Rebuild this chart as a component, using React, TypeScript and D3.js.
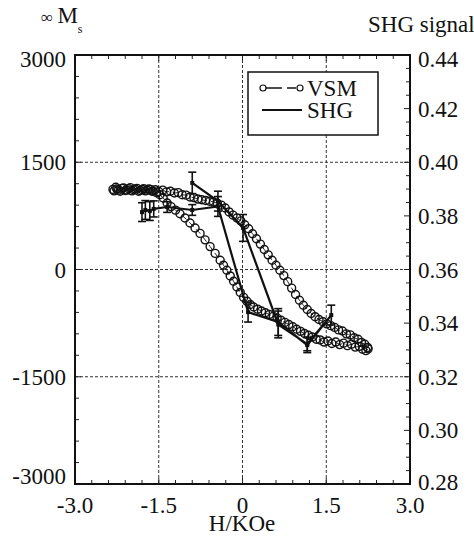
import * as d3 from "d3";
import { useEffect, useRef } from "react";

const W = 474;
const H = 536;

const hTicks = [-3, -1.5, 0, 1.5, 3];
const hTickLabels = ["-3.0", "-1.5", "0", "1.5", "3.0"];
const msTicks = [3000, 1500, 0, -1500, -3000];
const msTickLabels = ["3000", "1500", "0", "-1500", "-3000"];
const shgTicks = [0.44, 0.42, 0.4, 0.38, 0.36, 0.34, 0.32, 0.3, 0.28];
const shgTickLabels = ["0.44", "0.42", "0.40", "0.38", "0.36", "0.34", "0.32", "0.30", "0.28"];

// VSM loop, upper branch (switches at positive field), [H in kOe, Ms]
const vsmUpper: [number, number][] = [
  [-2.32, 1120], [-2.27, 1150], [-2.22, 1110], [-2.16, 1135], [-2.1, 1105],
  [-2.04, 1130], [-1.98, 1100], [-1.92, 1125], [-1.86, 1095], [-1.8, 1120],
  [-1.74, 1100], [-1.68, 1125], [-1.62, 1095], [-1.56, 1115], [-1.5, 1090],
  [-1.43, 1110], [-1.36, 1085], [-1.29, 1095], [-1.22, 1070], [-1.15, 1075],
  [-1.08, 1045], [-1.01, 1040], [-0.94, 1015], [-0.87, 1005], [-0.8, 985],
  [-0.73, 975], [-0.66, 965], [-0.59, 955], [-0.52, 945], [-0.45, 925],
  [-0.38, 900], [-0.31, 860], [-0.24, 805], [-0.17, 760], [-0.1, 720],
  [-0.03, 680], [0.04, 625], [0.11, 570], [0.18, 500], [0.25, 430],
  [0.32, 355], [0.39, 280], [0.46, 205], [0.53, 130], [0.6, 60],
  [0.67, -10], [0.74, -85], [0.81, -170], [0.88, -260], [0.95, -350],
  [1.02, -430], [1.09, -500], [1.16, -560], [1.23, -615], [1.3, -660],
  [1.37, -700], [1.44, -730], [1.51, -760], [1.58, -785], [1.65, -810],
  [1.72, -845], [1.79, -860], [1.86, -900], [1.93, -915], [2.0, -955],
  [2.07, -975], [2.13, -1020], [2.19, -1045], [2.24, -1090],
];

// VSM loop, lower branch (switches at negative field)
const vsmLower: [number, number][] = [
  [-2.3, 1100], [-2.25, 1125], [-2.19, 1095], [-2.13, 1140], [-2.07, 1110],
  [-2.01, 1145], [-1.95, 1115], [-1.89, 1135], [-1.83, 1105], [-1.77, 1130],
  [-1.71, 1110], [-1.65, 1120], [-1.6, 1095], [-1.54, 1075], [-1.48, 1045],
  [-1.42, 1000], [-1.35, 930], [-1.28, 880], [-1.2, 830], [-1.12, 780],
  [-1.03, 720], [-0.94, 650], [-0.85, 580], [-0.76, 505], [-0.67, 415],
  [-0.58, 320], [-0.49, 225], [-0.4, 130], [-0.34, 60], [-0.28, -10],
  [-0.22, -90], [-0.16, -165], [-0.1, -245], [-0.04, -320], [0.02, -390],
  [0.08, -445], [0.14, -490], [0.2, -525], [0.27, -555], [0.34, -580],
  [0.41, -605], [0.48, -630], [0.55, -655], [0.62, -680], [0.69, -710],
  [0.76, -740], [0.83, -770], [0.9, -800], [0.97, -835], [1.04, -865],
  [1.11, -895], [1.18, -920], [1.25, -945], [1.32, -975], [1.39, -985],
  [1.46, -1015], [1.53, -1000], [1.6, -1035], [1.67, -1015], [1.74, -1050],
  [1.81, -1030], [1.88, -1065], [1.95, -1045], [2.02, -1085], [2.09, -1075],
  [2.15, -1115], [2.21, -1135], [2.25, -1110],
];

// SHG signal with error bars (right axis)
const shgField = [-1.8, -1.74, -1.66, -1.59, -1.35, -0.9, -0.44, 0.1, 0.64, 1.16, 1.59, 1.16, 0.64, 0.01, -0.44, -0.9];
const shgSignal = [0.3814, 0.3822, 0.3818, 0.3826, 0.3833, 0.3822, 0.3835, 0.3441, 0.3404, 0.3318, 0.343, 0.3322, 0.3395, 0.3755, 0.3855, 0.3923];
const shgError = [0.0035, 0.0035, 0.0035, 0.003, 0.002, 0.002, 0.0037, 0.0037, 0.005, 0.0028, 0.0037, 0.0025, 0.005, 0.005, 0.0037, 0.004];

const FONT = "Liberation Serif";

export default function App() {
  const ref = useRef<SVGSVGElement>(null);

  useEffect(() => {
    const svg = d3.select(ref.current);
    svg.selectAll("*").remove();

    const left = 75, right = 410, top = 55, bottom = 484;

    const x = d3.scaleLinear().domain([-3, 3]).range([left, right]);
    const yMs = d3.scaleLinear().domain([-3000, 3000]).range([bottom, top]);
    const yShg = d3.scaleLinear().domain([0.28, 0.44]).range([bottom, top]);

    const addText = (g, tx: number, ty: number, s: string, anchor = "start", size = 23) =>
      g.append("text")
        .attr("x", tx)
        .attr("y", ty)
        .attr("text-anchor", anchor)
        .attr("font-family", FONT)
        .attr("font-size", size)
        .attr("fill", "#111")
        .text(s);

    // grid
    const grid = svg.append("g")
      .attr("stroke", "#333")
      .attr("stroke-width", 1)
      .attr("stroke-dasharray", "3,2");
    hTicks.slice(1, -1).forEach((v) => {
      grid.append("line").attr("x1", x(v)).attr("x2", x(v)).attr("y1", top).attr("y2", bottom);
    });
    msTicks.slice(1, -1).forEach((v) => {
      grid.append("line").attr("x1", left).attr("x2", right).attr("y1", yMs(v)).attr("y2", yMs(v));
    });

    // minor ticks
    const ticks = svg.append("g").attr("stroke", "#222").attr("stroke-width", 1);
    d3.range(-3, 3.0001, 0.3).forEach((v) => {
      const len = Math.abs(v / 1.5 - Math.round(v / 1.5)) < 1e-6 ? 6 : 4;
      ticks.append("line").attr("x1", x(v)).attr("x2", x(v)).attr("y1", top).attr("y2", top + len);
      ticks.append("line").attr("x1", x(v)).attr("x2", x(v)).attr("y1", bottom).attr("y2", bottom - len);
    });
    d3.range(-3000, 3001, 300).forEach((v) => {
      const len = v % 1500 === 0 ? 6 : 4;
      ticks.append("line").attr("x1", left).attr("x2", left + len).attr("y1", yMs(v)).attr("y2", yMs(v));
    });
    d3.range(0, 33).forEach((i) => {
      const v = 0.28 + i * 0.005;
      const len = i % 4 === 0 ? 6 : 4;
      ticks.append("line").attr("x1", right).attr("x2", right - len).attr("y1", yShg(v)).attr("y2", yShg(v));
    });

    // VSM loop: lower branch from + saturation back, then upper branch forward
    const loop = [...vsmLower].reverse().concat(vsmUpper);
    const line = d3.line<[number, number]>().x((d) => x(d[0])).y((d) => yMs(d[1]));
    svg.append("path")
      .attr("d", line(loop))
      .attr("fill", "none")
      .attr("stroke", "#222")
      .attr("stroke-width", 1)
      .attr("stroke-dasharray", "6,4");
    svg.append("g")
      .selectAll("circle")
      .data(loop)
      .join("circle")
      .attr("cx", (d) => x(d[0]))
      .attr("cy", (d) => yMs(d[1]))
      .attr("r", 4)
      .attr("fill", "none")
      .attr("stroke", "#111")
      .attr("stroke-width", 1.4);

    // SHG line with error bars
    const shg = shgField.map((h, i) => ({ h, v: shgSignal[i], e: shgError[i] }));
    const shgLine = d3.line<{ h: number; v: number }>().x((d) => x(d.h)).y((d) => yShg(d.v));
    svg.append("path")
      .attr("d", shgLine(shg))
      .attr("fill", "none")
      .attr("stroke", "#111")
      .attr("stroke-width", 2.2);
    const eb = svg.append("g").attr("stroke", "#111").attr("stroke-width", 1.6);
    shg.forEach((d) => {
      const cx = x(d.h);
      const y1 = yShg(d.v + d.e);
      const y2 = yShg(d.v - d.e);
      eb.append("line").attr("x1", cx).attr("x2", cx).attr("y1", y1).attr("y2", y2);
      eb.append("line").attr("x1", cx - 4).attr("x2", cx + 4).attr("y1", y1).attr("y2", y1);
      eb.append("line").attr("x1", cx - 4).attr("x2", cx + 4).attr("y1", y2).attr("y2", y2);
    });
    svg.append("g")
      .selectAll("rect")
      .data(shg)
      .join("rect")
      .attr("x", (d) => x(d.h) - 2)
      .attr("y", (d) => yShg(d.v) - 2)
      .attr("width", 4)
      .attr("height", 4)
      .attr("fill", "#111");

    // frame
    svg.append("rect")
      .attr("x", left).attr("y", top)
      .attr("width", right - left).attr("height", bottom - top)
      .attr("fill", "none")
      .attr("stroke", "#111")
      .attr("stroke-width", 2);

    // legend
    const lg = svg.append("g");
    lg.append("rect")
      .attr("x", 248).attr("y", 72).attr("width", 130).attr("height", 63)
      .attr("fill", "#fff").attr("stroke", "#111").attr("stroke-width", 1.5);
    lg.append("line").attr("x1", 266).attr("x2", 282).attr("y1", 88).attr("y2", 88)
      .attr("stroke", "#111").attr("stroke-width", 1.5);
    lg.append("line").attr("x1", 287).attr("x2", 296).attr("y1", 88).attr("y2", 88)
      .attr("stroke", "#111").attr("stroke-width", 1.5);
    [263, 300].forEach((cx) => {
      lg.append("circle").attr("cx", cx).attr("cy", 88).attr("r", 3)
        .attr("fill", "none").attr("stroke", "#111").attr("stroke-width", 1.2);
    });
    lg.append("line").attr("x1", 262).attr("x2", 302).attr("y1", 110).attr("y2", 110)
      .attr("stroke", "#111").attr("stroke-width", 2);
    addText(lg, 307, 96, "VSM");
    addText(lg, 307, 118, "SHG");

    // tick labels
    const labels = svg.append("g");
    msTicks.forEach((v, i) => {
      const dy = i === 0 ? 12 : i === msTicks.length - 1 ? 0 : 8;
      addText(labels, 66, yMs(v) + dy, msTickLabels[i], "end");
    });
    shgTicks.forEach((v, i) => {
      const dy = i === 0 ? 12 : i === shgTicks.length - 1 ? 6 : 8;
      addText(labels, 418, yShg(v) + dy, shgTickLabels[i]);
    });
    hTicks.forEach((v, i) => {
      addText(labels, x(v), 513, hTickLabels[i], "middle");
    });
    addText(labels, 242, 531, "H/KOe", "middle");
    addText(labels, 368, 32, "SHG signal");

    const ms = addText(labels, 41, 23, "");
    ms.append("tspan").attr("font-size", 17).text("∞ ");
    ms.append("tspan").text("M");
    ms.append("tspan").attr("dy", 10).attr("font-size", 12).text("s");
  }, []);

  return (
    <svg
      ref={ref}
      width={W}
      height={H}
      style={{ position: "absolute", left: 0, top: 0, background: "#fff" }}
    />
  );
}
